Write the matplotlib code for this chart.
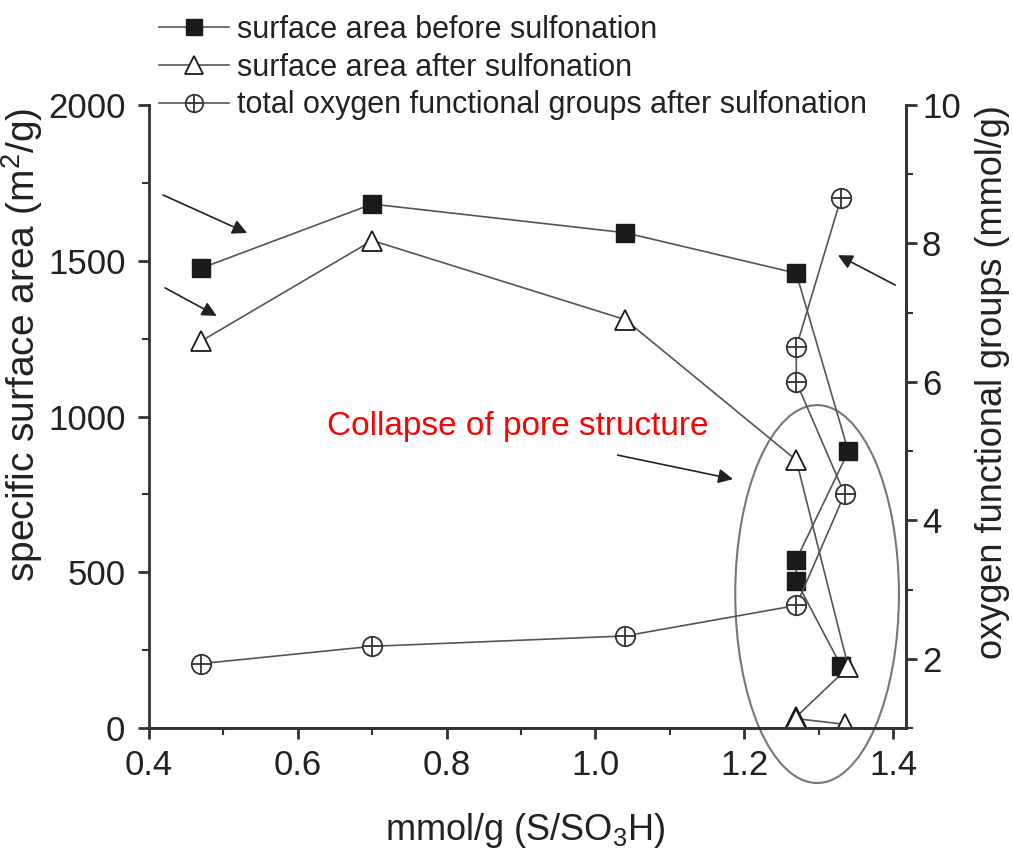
import matplotlib
matplotlib.use('Agg')
import matplotlib.pyplot as plt
from matplotlib.patches import Ellipse
from matplotlib.ticker import MultipleLocator

plt.rcParams['font.family'] = ['Liberation Sans', 'DejaVu Sans']
plt.rcParams['mathtext.fontset'] = 'custom'
plt.rcParams['mathtext.rm'] = 'Liberation Sans'
plt.rcParams['mathtext.it'] = 'Liberation Sans:italic'

# ---- data ----
x_before = [0.47, 0.70, 1.04, 1.27, 1.34, 1.27, 1.27, 1.33]
sa_before = [1476, 1682, 1590, 1460, 888, 540, 472, 200]

x_after = [0.47, 0.70, 1.04, 1.27, 1.34, 1.27, 1.27, 1.335]
sa_after = [1242, 1565, 1311, 860, 195, 36, 30, 12]

x_oxy = [0.47, 0.70, 1.04, 1.27, 1.335, 1.27, 1.27, 1.33]
oxy = [1.93, 2.18, 2.33, 2.77, 4.38, 6.0, 6.5, 8.65]

labels = ["surface area before sulfonation",
          "surface area after sulfonation",
          "total oxygen functional groups after sulfonation"]
x_ticks = [0.4, 0.6, 0.8, 1.0, 1.2, 1.4]
y_ticks = [0, 500, 1000, 1500, 2000]
y2_ticks = [2, 4, 6, 8, 10]

W, H = 1013, 848
fig = plt.figure(figsize=(W / 100, H / 100), dpi=100)
ax = fig.add_axes([149 / W, 1 - 728 / H, (906 - 149) / W, (728 - 105) / H])
ax2 = ax.twinx()

line_c = '#555555'
mk_c = '#1a1a1a'

l1, = ax.plot(x_before, sa_before, color=line_c, lw=1.2, marker='s', ms=12.5,
              mfc=mk_c, mec=mk_c, zorder=3)
l2, = ax.plot(x_after, sa_after, color=line_c, lw=1.2, marker='^', ms=15,
              mfc='white', mec=mk_c, mew=1.3, zorder=3)
l3, = ax2.plot(x_oxy, oxy, color=line_c, lw=1.2, marker='o', ms=14,
               mfc='white', mec='#333333', mew=1.3, zorder=3)
l3p, = ax2.plot(x_oxy, oxy, ls='none', marker='+', ms=14, mec='#333333',
                mew=1.3, zorder=4)

ax.set_xlim(0.4, 1.4175)
ax.set_ylim(0, 2000)
ax2.set_ylim(1, 10)
ax.set_xticks(x_ticks)
ax.set_xticklabels([f"{v:.1f}" for v in x_ticks])
ax.set_yticks(y_ticks)
ax2.set_yticks(y2_ticks)
ax.xaxis.set_minor_locator(MultipleLocator(0.1))
ax.yaxis.set_minor_locator(MultipleLocator(250))
ax2.yaxis.set_minor_locator(MultipleLocator(1))

for a in (ax, ax2):
    a.spines['top'].set_visible(False)
    for s in a.spines.values():
        s.set_linewidth(2)
        s.set_color('#333333')
    a.tick_params(which='major', direction='out', length=8, width=2,
                  colors='#333333', labelsize=25, labelcolor='#222222')
    a.tick_params(which='minor', direction='out', length=5, width=1.5,
                  colors='#333333')
ax2.spines['left'].set_visible(False)
ax.tick_params(axis='x', pad=7)
ax.tick_params(axis='y', pad=9)

ax.set_xlabel("mmol/g (S/SO$_3$H)", fontsize=26, color='#222222', va='top')
ax.xaxis.set_label_coords(0.497, -0.133)
ax.set_ylabel("specific surface area (m$^2$/g)", fontsize=28, color='#222222')
ax.yaxis.set_label_coords(-0.137, 0.615)
ax2.set_ylabel("oxygen functional groups (mmol/g)", fontsize=26,
               color='#222222', rotation=90)
ax2.yaxis.set_label_coords(1.091, 0.555)

# ellipse marking the collapse region
ell = Ellipse((1.298, 430), 0.22, 1213, fill=False, edgecolor='#777777',
              lw=1.5, clip_on=False, zorder=2)
ax.add_patch(ell)

ax.text(0.896, 968, "Collapse of pore structure", color='#ff0000',
        fontsize=24, ha='center', va='center')

arrow_kw = dict(arrowstyle='-|>', color='#222222', lw=1.2,
                mutation_scale=22, shrinkA=0, shrinkB=0)
ax.annotate('', xy=(0.532, 1589), xytext=(0.419, 1711), arrowprops=arrow_kw,
            annotation_clip=False)
ax.annotate('', xy=(0.491, 1323), xytext=(0.4215, 1413), arrowprops=arrow_kw,
            annotation_clip=False)
ax.annotate('', xy=(1.326, 1518), xytext=(1.403, 1422), arrowprops=arrow_kw,
            annotation_clip=False)
ax.annotate('', xy=(1.185, 799), xytext=(1.030, 876), arrowprops=arrow_kw,
            annotation_clip=False)

# legend
fig.legend([l1, l2, (l3, l3p)], labels, loc='upper left',
           bbox_to_anchor=(159 / W, 1 - 15 / H), frameon=False,
           fontsize=22, handlelength=2.3, handletextpad=0.25,
           labelspacing=0.25, borderpad=0, borderaxespad=0,
           labelcolor='#222222', markerscale=0.9)

fig.savefig('out.png', dpi=100)
